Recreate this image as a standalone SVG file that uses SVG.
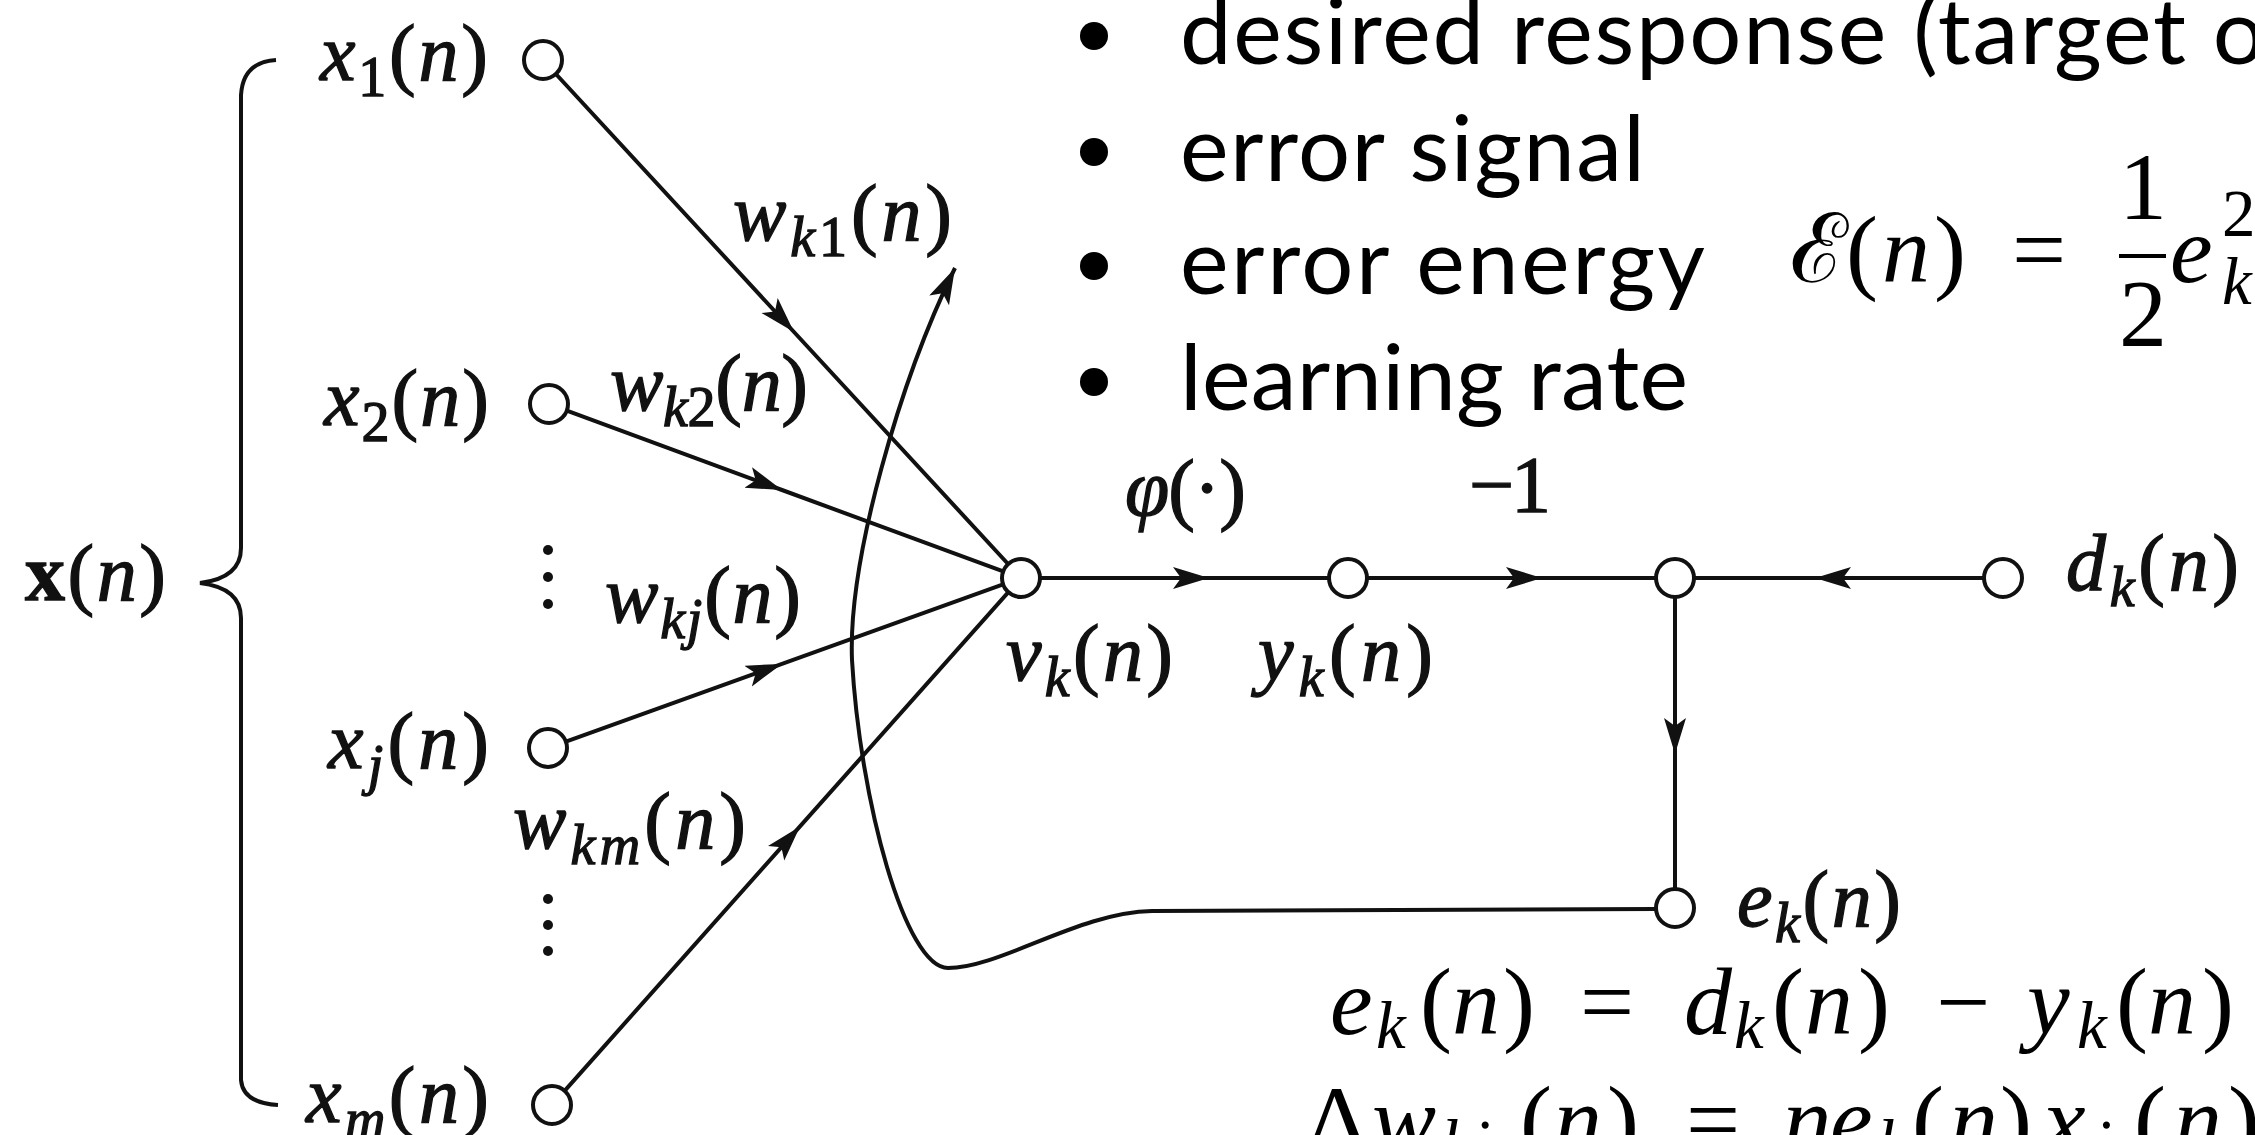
<svg xmlns="http://www.w3.org/2000/svg" width="2255" height="1135" viewBox="0 0 2255 1135">
<style>
.bg{fill:#ffffff}
.ln{fill:none;stroke:#111;stroke-width:4}
.nd{fill:#fff;stroke:#111;stroke-width:4}
.lbl{font-family:"Liberation Serif","Times New Roman","DejaVu Serif",serif;font-size:80px;font-style:italic;fill:#111;stroke:#111;stroke-width:1.3}
.up{font-style:normal}
.sb{font-size:56px}
.bul{font-family:Lato,"Open Sans","Liberation Sans",sans-serif;font-size:92px;fill:#000}
.m{font-family:"Liberation Serif","Times New Roman","DejaVu Serif",serif;font-size:96px;fill:#000}
.mi{font-style:italic}
.ms{font-size:67px}
.dot{fill:#111}
</style>
<defs>
<marker id="ah" markerUnits="userSpaceOnUse" markerWidth="40" markerHeight="26" refX="36" refY="11" orient="auto" viewBox="0 0 40 26">
<path d="M0,0 L36,11 L0,22 L8,11 Z" fill="#111"/>
</marker>
</defs>
<rect class="bg" x="0" y="0" width="2255" height="1135"/>

<g id="connectors">
<path class="ln" d="M276,60 Q243,62 241,95 L241,548 Q241,578 200,583 Q241,588 241,618 L241,1080 Q243,1103 278,1105" stroke-width="3"/>
<polyline class="ln" points="555.9,74 794,332 1008.1,564" marker-mid="url(#ah)"/>
<polyline class="ln" points="566.8,410.6 782,490 1003.2,571.4" marker-mid="url(#ah)"/>
<polyline class="ln" points="565.9,741.6 782,663.9 1003.1,584.4" marker-mid="url(#ah)"/>
<polyline class="ln" points="564.6,1090.8 800,826.4 1008.4,592.2" marker-mid="url(#ah)"/>
<polyline class="ln" points="1040,578 1209,578 1329,578" marker-mid="url(#ah)"/>
<polyline class="ln" points="1367,578 1542,578 1656,578" marker-mid="url(#ah)"/>
<polyline class="ln" points="1984,578 1815,578 1694,578" marker-mid="url(#ah)"/>
<polyline class="ln" points="1675,597 1675,754 1675,889" marker-mid="url(#ah)"/>
<path class="ln" d="M1656,909 L1152,911 C1080,912 1000,968 948,968 C905,968 860,800 852,660 C848,560 900,380 955,268" marker-end="url(#ah)" stroke-width="3.5"/>
</g>

<g id="input-vector">
<text class="lbl" x="25" y="600" textLength="141"><tspan class="up" font-weight="bold">x</tspan><tspan class="up">(</tspan>n<tspan class="up">)</tspan></text>
</g>
<g id="x1">
<circle class="nd" cx="543" cy="60" r="19"/>
<text class="lbl" x="320" y="80" textLength="168">x<tspan class="sb up" dy="16">1</tspan><tspan class="up" dy="-16">(</tspan>n<tspan class="up">)</tspan></text>
</g>
<g id="x2">
<circle class="nd" cx="549" cy="404" r="19"/>
<text class="lbl" x="324" y="425" textLength="165">x<tspan class="sb up" dy="16">2</tspan><tspan class="up" dy="-16">(</tspan>n<tspan class="up">)</tspan></text>
</g>
<g id="dots1">
<circle class="dot" cx="548" cy="550" r="5"/>
<circle class="dot" cx="548" cy="577" r="5"/>
<circle class="dot" cx="548" cy="604" r="5"/>
</g>
<g id="xj">
<circle class="nd" cx="548" cy="748" r="19"/>
<text class="lbl" x="328" y="768" textLength="161">x<tspan class="sb" dy="16">j</tspan><tspan class="up" dy="-16">(</tspan>n<tspan class="up">)</tspan></text>
</g>
<g id="dots2">
<circle class="dot" cx="548" cy="899" r="5"/>
<circle class="dot" cx="548" cy="925" r="5"/>
<circle class="dot" cx="548" cy="951" r="5"/>
</g>
<g id="xm">
<circle class="nd" cx="552" cy="1105" r="19"/>
<text class="lbl" x="306" y="1122" textLength="183">x<tspan class="sb" dy="16">m</tspan><tspan class="up" dy="-16">(</tspan>n<tspan class="up">)</tspan></text>
</g>

<g id="weights">
<text class="lbl" x="733" y="240" textLength="219">w<tspan class="sb" dy="16">k</tspan><tspan class="sb up">1</tspan><tspan class="up" dy="-16">(</tspan>n<tspan class="up">)</tspan></text>
<text class="lbl" x="610" y="410" textLength="198">w<tspan class="sb" dy="16">k</tspan><tspan class="sb up">2</tspan><tspan class="up" dy="-16">(</tspan>n<tspan class="up">)</tspan></text>
<text class="lbl" x="605" y="622" textLength="196">w<tspan class="sb" dy="16">kj</tspan><tspan class="up" dy="-16">(</tspan>n<tspan class="up">)</tspan></text>
<text class="lbl" x="513" y="848" textLength="233">w<tspan class="sb" dy="16">km</tspan><tspan class="up" dy="-16">(</tspan>n<tspan class="up">)</tspan></text>
</g>

<g id="sum-node">
<circle class="nd" cx="1021" cy="578" r="19"/>
<text class="lbl" x="1006" y="680" textLength="167">v<tspan class="sb" dy="16">k</tspan><tspan class="up" dy="-16">(</tspan>n<tspan class="up">)</tspan></text>
<text class="lbl" x="1125" y="515" textLength="121">φ<tspan class="up">(·)</tspan></text>
</g>
<g id="output-node">
<circle class="nd" cx="1348" cy="578" r="19"/>
<text class="lbl" x="1258" y="680" textLength="175">y<tspan class="sb" dy="16">k</tspan><tspan class="up" dy="-16">(</tspan>n<tspan class="up">)</tspan></text>
<text class="lbl up" x="1469" y="512" textLength="82">−1</text>
</g>
<g id="error-junction">
<circle class="nd" cx="1675" cy="578" r="19"/>
</g>
<g id="desired-node">
<circle class="nd" cx="2003" cy="578" r="19"/>
<text class="lbl" x="2066" y="590" textLength="173">d<tspan class="sb" dy="16">k</tspan><tspan class="up" dy="-16">(</tspan>n<tspan class="up">)</tspan></text>
</g>
<g id="error-node">
<circle class="nd" cx="1675" cy="908" r="19"/>
<text class="lbl" x="1737" y="926" textLength="164">e<tspan class="sb" dy="16">k</tspan><tspan class="up" dy="-16">(</tspan>n<tspan class="up">)</tspan></text>
</g>

<g id="bullets">
<circle cx="1094" cy="36" r="14"/>
<text class="bul" x="1180" y="64" textLength="1085">desired response (target o</text>
<circle cx="1094" cy="152" r="14"/>
<text class="bul" x="1180" y="181" textLength="465">error signal</text>
<circle cx="1094" cy="266" r="14"/>
<text class="bul" x="1180" y="294" textLength="525">error energy</text>
<circle cx="1094" cy="382" r="14"/>
<text class="bul" x="1180" y="410" textLength="508">learning rate</text>
</g>

<g id="energy-formula">
<text class="m" y="282"><tspan x="1790">ℰ</tspan><tspan x="1846">(</tspan><tspan x="1882" class="mi">n</tspan><tspan x="1934">)</tspan><tspan x="2012">=</tspan></text>
<line x1="2119" y1="256" x2="2166" y2="256" stroke="#000" stroke-width="4"/>
<text class="m" x="2143" y="219" text-anchor="middle">1</text>
<text class="m" x="2143" y="346" text-anchor="middle">2</text>
<text class="m mi" x="2170" y="282">e</text>
<text class="m ms" x="2222" y="236">2</text>
<text class="m ms mi" x="2222" y="304">k</text>
</g>

<g id="error-formula">
<text class="m" y="1034"><tspan x="1330" class="mi">e</tspan><tspan x="1376" y="1048" class="mi ms">k</tspan><tspan x="1420" y="1034">(</tspan><tspan x="1452" class="mi">n</tspan><tspan x="1503">)</tspan><tspan x="1580">=</tspan><tspan x="1684" class="mi">d</tspan><tspan x="1734" y="1048" class="mi ms">k</tspan><tspan x="1772" y="1034">(</tspan><tspan x="1805" class="mi">n</tspan><tspan x="1858">)</tspan><tspan x="1936">−</tspan><tspan x="2027" class="mi">y</tspan><tspan x="2077" y="1048" class="mi ms">k</tspan><tspan x="2116" y="1034">(</tspan><tspan x="2148" class="mi">n</tspan><tspan x="2202">)</tspan></text>
</g>

<g id="update-formula">
<text class="m" y="1152"><tspan x="1306">Δ</tspan><tspan x="1372" class="mi">w</tspan><tspan x="1442" y="1166" class="mi ms">kj</tspan><tspan x="1520" y="1152">(</tspan><tspan x="1554" class="mi">n</tspan><tspan x="1607">)</tspan><tspan x="1686">=</tspan><tspan x="1783" class="mi">η</tspan><tspan x="1830" class="mi">e</tspan><tspan x="1878" y="1166" class="mi ms">k</tspan><tspan x="1912" y="1152">(</tspan><tspan x="1950" class="mi">n</tspan><tspan x="2000">)</tspan><tspan x="2043" class="mi">x</tspan><tspan x="2093" y="1166" class="mi ms">j</tspan><tspan x="2134" y="1152">(</tspan><tspan x="2174" class="mi">n</tspan><tspan x="2228">)</tspan></text>
</g>
</svg>
